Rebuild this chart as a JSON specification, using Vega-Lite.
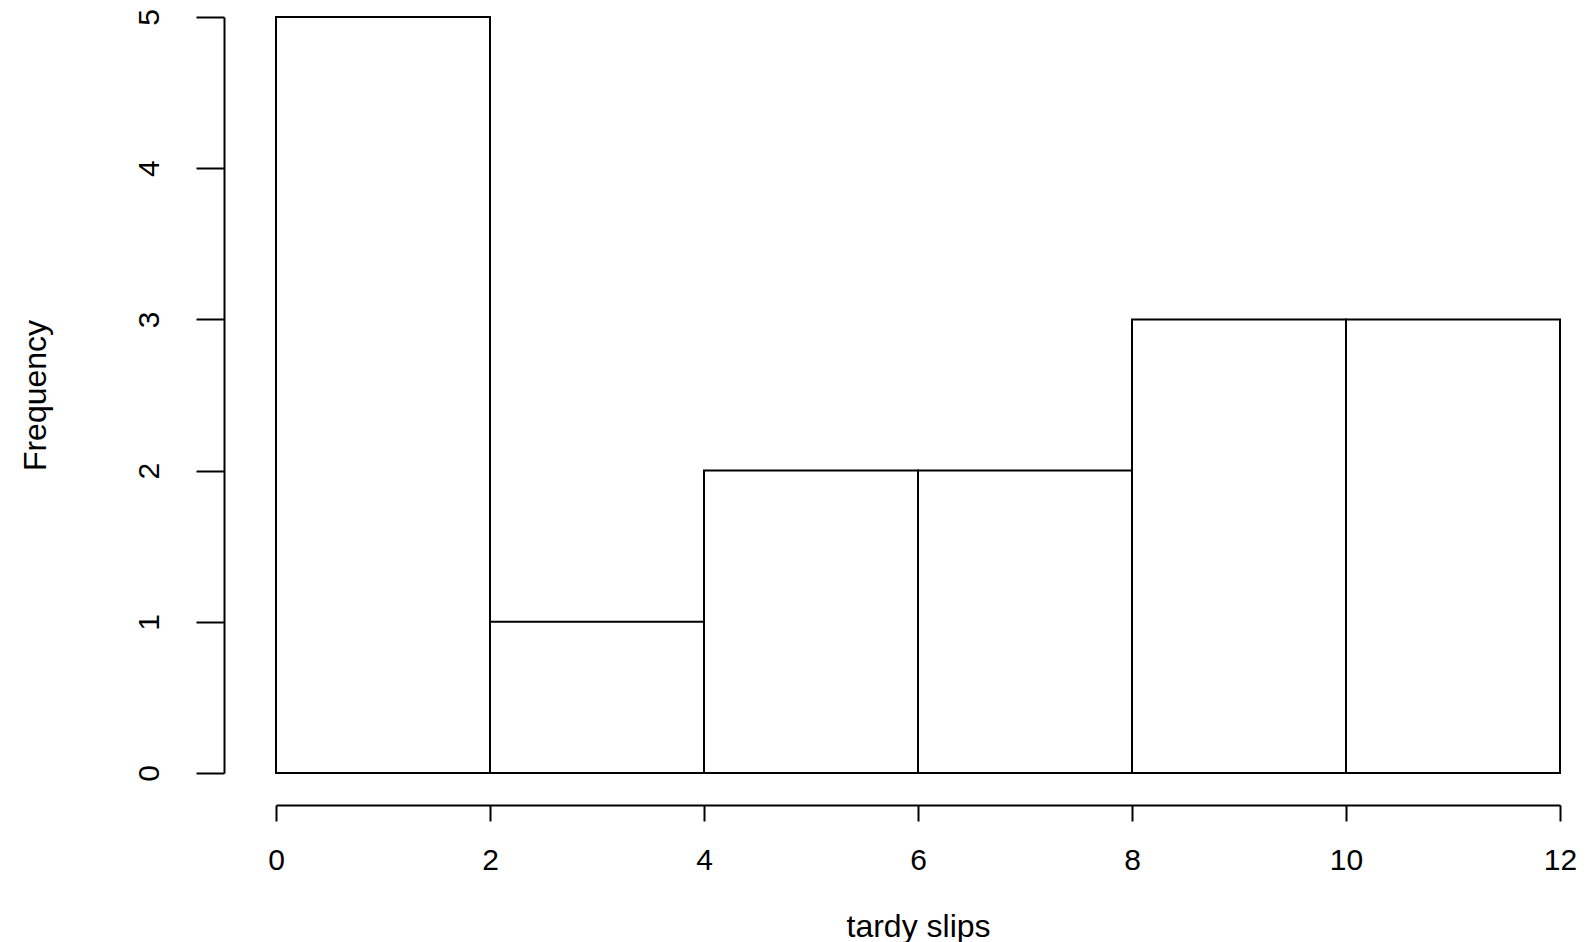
{
  "$schema": "https://vega.github.io/schema/vega-lite/v6.json",
  "autosize": {"type": "none"},
  "padding": {"left": 276, "top": 17, "right": 34, "bottom": 169},
  "width": 1284,
  "height": 756,
  "background": "white",
  "config": {"view": {"stroke": null}},
  "data": {"values": [
    {"bin_start": 0, "bin_end": 2, "count": 5},
    {"bin_start": 2, "bin_end": 4, "count": 1},
    {"bin_start": 4, "bin_end": 6, "count": 2},
    {"bin_start": 6, "bin_end": 8, "count": 2},
    {"bin_start": 8, "bin_end": 10, "count": 3},
    {"bin_start": 10, "bin_end": 12, "count": 3}
  ]},
  "mark": {"type": "rect", "fill": "white", "stroke": "black", "strokeWidth": 2},
  "encoding": {
    "x": {
      "field": "bin_start", "type": "quantitative",
      "scale": {"domain": [0, 12], "nice": false, "zero": false},
      "axis": {
        "title": "tardy slips", "values": [0, 2, 4, 6, 8, 10, 12],
        "grid": false, "offset": 32, "tickSize": 16, "tickWidth": 2, "tickColor": "black",
        "domainColor": "black", "domainWidth": 2,
        "labelFont": "Liberation Sans", "labelFontSize": 30, "labelColor": "black",
        "labelPadding": 24, "labelFlush": false,
        "titleFont": "Liberation Sans", "titleFontSize": 32, "titleFontWeight": "normal", "titleColor": "black",
        "titlePadding": 36
      }
    },
    "x2": {"field": "bin_end"},
    "y": {
      "field": "count", "type": "quantitative",
      "scale": {"domain": [0, 5], "nice": false},
      "axis": {
        "title": "Frequency", "values": [0, 1, 2, 3, 4, 5],
        "grid": false, "offset": 52, "tickSize": 28, "tickWidth": 2, "tickColor": "black",
        "domainColor": "black", "domainWidth": 2,
        "labelFont": "Liberation Sans", "labelFontSize": 30, "labelColor": "black",
        "labelAngle": 270, "labelAlign": "center", "labelBaseline": "bottom",
        "labelPadding": 32, "labelFlush": false,
        "titleFont": "Liberation Sans", "titleFontSize": 32, "titleFontWeight": "normal", "titleColor": "black",
        "titlePadding": 82
      }
    },
    "y2": {"datum": 0}
  }
}
